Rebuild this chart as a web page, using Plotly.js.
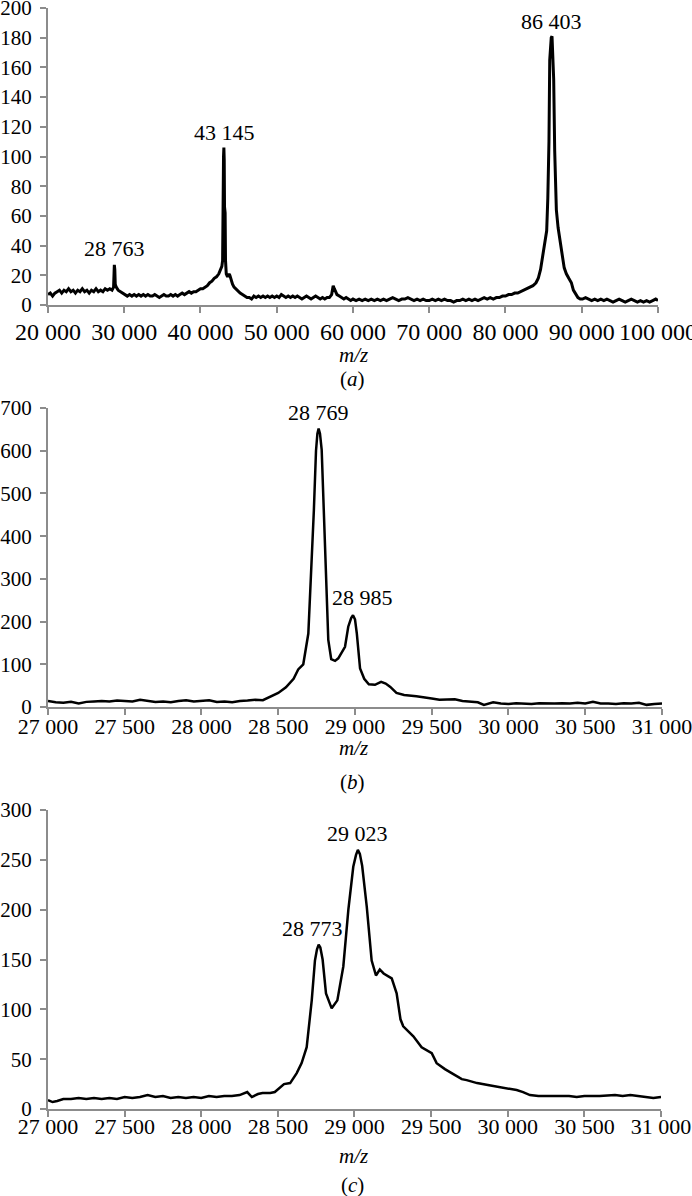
<!DOCTYPE html>
<html>
<head>
<meta charset="utf-8">
<script src="https://cdn.plot.ly/plotly-3.0.1.min.js"></script>
<style>
  body { margin: 0; background: #fff; }
  #plot { width: 692px; height: 1196px; }
</style>
</head>
<body>
<div id="plot"></div>
<script>
// (a) full range spectrum
var mzA = [20000,20300,20600,20900,21200,21500,21800,22100,22400,22700,23000,23300,23600,23900,24200,24500,24800,25100,25400,25700,26000,26300,26600,26900,27200,27500,27800,28100,28400,28600,28700,28760,28820,28950,29200,29500,29800,30100,30400,30700,31000,31300,31600,31900,32200,32500,32800,33100,33400,33700,34000,34300,34600,34900,35200,35500,35800,36100,36400,36700,37000,37300,37600,37900,38200,38500,38800,39100,39400,39700,40000,40300,40600,40900,41200,41500,41800,42100,42400,42600,42800,42900,42950,43020,43066,43110,43150,43230,43280,43380,43550,43750,43850,44000,44200,44400,44600,44900,45200,45500,45800,46100,46400,46700,47000,47300,47600,47900,48200,48500,48800,49100,49400,49700,50000,50300,50600,50900,51200,51500,51800,52100,52400,52700,53000,53300,53600,53900,54200,54500,54800,55100,55400,55700,56000,56300,56600,56900,57200,57400,57550,57700,57900,58200,58500,58800,59100,59400,59700,60000,60400,60800,61200,61600,62000,62400,62800,63200,63600,64000,64400,64800,65200,65600,66000,66400,66800,67200,67600,68000,68400,68800,69200,69600,70000,70400,70800,71200,71600,72000,72400,72800,73200,73600,74000,74400,74800,75200,75600,76000,76400,76800,77200,77600,78000,78400,78800,79200,79600,80000,80400,80800,81200,81600,82000,82400,82800,83200,83600,84000,84300,84600,84900,85200,85400,85550,85700,85800,85900,86000,86100,86200,86320,86450,86670,86900,87100,87400,87700,87980,88300,88640,88900,89200,89500,89800,90100,90500,90900,91300,91700,92100,92500,92900,93300,93700,94100,94500,94900,95300,95700,96100,96500,96900,97300,97700,98100,98500,98900,99300,99700,100000];
var intA = [7,8,6,8,9,10,8,10,9,11,9,10,8,10,9,11,9,10,8,10,9,11,9,10,9,11,10,11,10,12,27,24,14,12,10,9,8,7,6,7,6,7,6,7,6,7,6,7,6,6,7,6,5,6,7,6,6,7,6,7,6,7,8,7,8,9,8,9,9,10,11,11,12,13,15,16,18,19,21,23,26,30,96,100,106,98,66,62,30,21,19,21,20,17,14,12,11,9,8,7,6,5,5,4,6,5,6,5,6,5,6,5,6,5,6,5,7,6,5,6,5,6,5,6,5,4,5,6,5,4,5,6,5,4,5,4,5,5,7,13,11,9,7,6,5,4,5,4,3,4,3,4,3,4,3,4,3,4,3,4,3,4,5,4,3,4,4,5,4,3,4,3,4,3,3,4,3,4,3,4,3,3,2,3,3,4,3,4,3,4,3,4,5,4,5,4,5,5,6,6,7,7,8,8,9,10,11,12,13,15,18,24,33,42,50,72,110,165,175,180,181,170,152,104,64,52,44,35,25,21,18,15,10,7,5,4,4,5,4,3,4,3,4,3,4,3,2,3,4,3,2,3,4,3,2,3,2,3,2,3,4,3];

// (b) zoom 27 000 - 31 000
var mzB = [27000,27050,27100,27150,27200,27250,27300,27350,27400,27450,27500,27550,27600,27650,27700,27750,27800,27850,27900,27950,28000,28050,28100,28150,28200,28250,28300,28350,28400,28450,28500,28550,28600,28630,28663,28696,28718,28732,28746,28755,28763,28772,28783,28805,28826,28845,28870,28891,28935,28956,28975,28987,29000,29012,29033,29060,29090,29130,29170,29200,29230,29270,29320,29400,29450,29500,29550,29600,29650,29700,29750,29800,29840,29900,29950,30000,30050,30100,30150,30200,30250,30300,30350,30400,30450,30500,30550,30600,30650,30700,30750,30800,30850,30900,30950,31000];
var intB = [14,11,10,12,8,12,13,14,13,15,14,13,17,15,12,13,11,14,16,13,14,16,12,13,11,14,15,17,16,24,33,46,66,88,100,172,328,460,600,640,652,640,602,368,157,112,108,114,141,188,208,215,205,172,90,66,53,52,59,55,47,33,28,25,23,20,17,17,18,14,12,11,5,11,8,7,9,8,7,9,8,8,9,8,10,8,12,8,8,7,9,8,10,5,7,8];

// (c) zoom 27 000 - 31 000
var mzC = [27000,27030,27060,27100,27150,27200,27250,27300,27350,27400,27450,27500,27550,27600,27650,27700,27750,27800,27850,27900,27950,28000,28050,28100,28150,28200,28250,28300,28330,28370,28400,28450,28480,28510,28540,28580,28623,28655,28688,28721,28742,28755,28766,28777,28792,28814,28851,28888,28927,28960,28992,29010,29022,29035,29050,29080,29112,29140,29165,29190,29243,29275,29300,29318,29384,29438,29470,29504,29536,29590,29645,29700,29732,29800,29870,29949,30000,30058,30100,30145,30200,30300,30400,30450,30500,30600,30700,30750,30800,30850,30900,30950,31000];
var intC = [9,7,8,10,10,11,10,11,10,11,10,12,11,12,14,12,13,11,12,11,12,11,13,12,13,13,14,17,12,15,16,16,17,21,25,26,36,46,62,109,149,160,165,162,150,116,101,109,143,200,243,255,260,256,244,203,149,134,140,136,131,116,90,83,73,62,59,56,46,40,35,30,29,26,24,22,20,19,17,14,13,13,13,12,13,13,14,13,14,13,12,11,12];

var peakLabelsA = ["28 763", "43 145", "86 403"];
var peakPosA = [[28690, 38], [43200, 116], [86054, 191]];
var peakLabelsB = ["28 769", "28 985"];
var peakPosB = [[28761, 689], [29046, 256]];
var peakLabelsC = ["28 773", "29 023"];
var peakPosC = [[28723, 181], [29019, 276]];

var serif = "'Liberation Serif', 'Times New Roman', serif";

function line(x, y, xa, ya, w) {
  return {x: x, y: y, xaxis: xa, yaxis: ya, type: "scatter", mode: "lines",
          line: {color: "#000", width: w}, hoverinfo: "skip", showlegend: false};
}

var data = [
  line(mzA, intA, "x", "y", 3),
  line(mzB, intB, "x2", "y2", 2.5),
  line(mzC, intC, "x3", "y3", 2.5)
];

function xax(dom, range, dtick, anchor, fsize, standoff) {
  return {domain: dom, range: range, dtick: dtick, tick0: range[0], tickformat: ",", anchor: anchor,
          showgrid: false, zeroline: false, showline: true, linecolor: "#8c8c8c", linewidth: 2,
          ticks: "outside", ticklen: 6, tickwidth: 2, tickcolor: "#8c8c8c",
          ticklabeloverflow: "allow", ticklabelstandoff: standoff,
          tickfont: {family: serif, size: fsize, color: "#000"}};
}
function yax(dom, range, dtick, anchor) {
  return {domain: dom, range: range, dtick: dtick, anchor: anchor,
          showgrid: false, zeroline: false, showline: true, linecolor: "#8c8c8c", linewidth: 2,
          ticks: "outside", ticklen: 6, tickwidth: 2, tickcolor: "#8c8c8c",
          ticklabeloverflow: "allow", ticklabelstandoff: 4,
          tickfont: {family: serif, size: 21, color: "#000"}};
}

var annotations = [];
function addPeaks(labels, pos, xr, yr) {
  labels.forEach(function (t, i) {
    annotations.push({text: t, x: pos[i][0], y: pos[i][1], xref: xr, yref: yr,
      showarrow: false, xanchor: "center", yanchor: "middle",
      font: {family: serif, size: 22, color: "#000"}});
  });
}
addPeaks(peakLabelsA, peakPosA, "x", "y");
addPeaks(peakLabelsB, peakPosB, "x2", "y2");
addPeaks(peakLabelsC, peakPosC, "x3", "y3");

function paperText(t, px, py) {
  annotations.push({text: t, x: px / 692, y: 1 - py / 1196, xref: "paper", yref: "paper",
    showarrow: false, xanchor: "center", yanchor: "middle",
    font: {family: serif, size: 21, color: "#000"}});
}
paperText("<i>m/z</i>", 353, 355);
paperText("(<i>a</i>)", 352, 379);
paperText("<i>m/z</i>", 353, 748);
paperText("(<i>b</i>)", 352, 782);
paperText("<i>m/z</i>", 353, 1156);
paperText("(<i>c</i>)", 352, 1185);

var layout = {
  width: 692, height: 1196,
  margin: {l: 0, r: 0, t: 0, b: 0},
  paper_bgcolor: "#fff", plot_bgcolor: "#fff",
  separators: ". ",
  xaxis: xax([0.06936, 0.95087], [20000, 100000], 10000, "y", 24, -2),
  yaxis: yax([0.74498, 0.99331], [0, 200], 20, "x"),
  xaxis2: xax([0.06936, 0.95665], [27000, 31000], 500, "y2", 22, -7),
  yaxis2: yax([0.40886, 0.65886], [0, 700], 100, "x2"),
  xaxis3: xax([0.06936, 0.95520], [27000, 31000], 500, "y3", 22, -9),
  yaxis3: yax([0.07274, 0.32274], [0, 300], 50, "x3"),
  annotations: annotations
};

Plotly.newPlot("plot", data, layout, {staticPlot: true});
</script>
</body>
</html>
